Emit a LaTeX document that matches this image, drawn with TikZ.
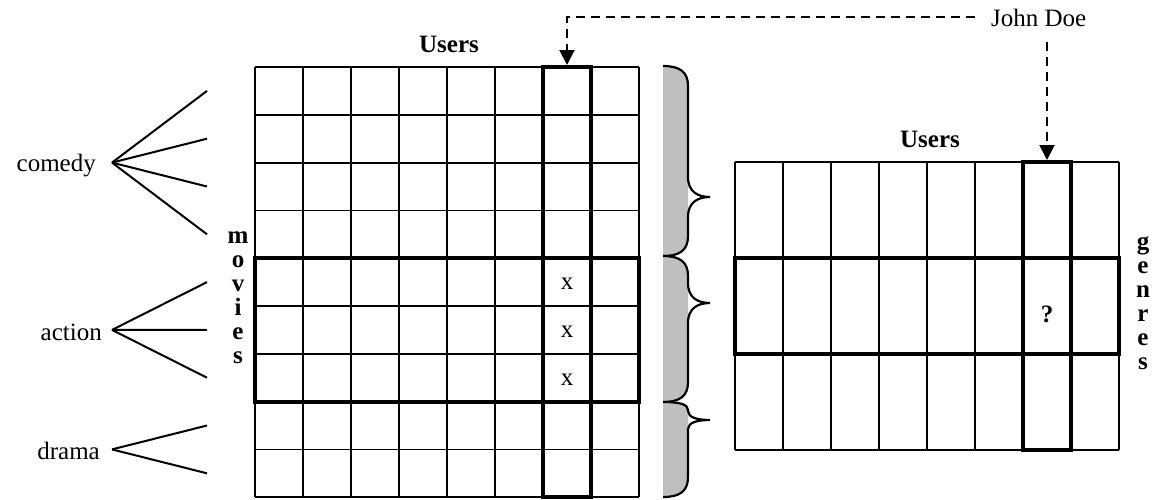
\documentclass[tikz,border=0pt]{standalone}
\usepackage{fontspec}
\setmainfont{Liberation Serif}
\usetikzlibrary{arrows.meta}
\tikzset{
  gridline/.style={line width=1.8pt},
  boldline/.style={line width=4.2pt},
  lbl/.style={font=\fontsize{25}{29}\selectfont, inner sep=0pt},
  blbl/.style={font=\fontsize{25}{29}\selectfont\bfseries, inner sep=0pt},
  fan/.style={line width=2pt},
  dasharrow/.style={line width=2pt, dash pattern=on 9pt off 6pt, -{Triangle[width=15pt,length=15pt]}},
  bracestroke/.style={line width=2.2pt},
  bracefill/.style={fill=black!25},
}
\newcommand{\drawbrace}[5]{%
  \fill[bracefill] (663,#1) .. controls (680,#1) and (688,#1+#4*0.3) .. (688,#1+#4)
     -- (688,#2-20) .. controls (688,#2-6) and (680,#2) .. (663,#2) -- cycle;
  \draw[bracestroke] (663,#1) .. controls (680,#1) and (688,#1+#4*0.3) .. (688,#1+#4)
     -- (688,#3-#5) .. controls (688,#3-#5*0.25) and (698,#3) .. (710,#3)
     .. controls (698,#3) and (688,#3+#5*0.25) .. (688,#3+#5)
     -- (688,#2-20) .. controls (688,#2-6) and (680,#2) .. (663,#2);
}
\begin{document}
\begin{tikzpicture}[x=1pt,y=-1pt]
\useasboundingbox (0,0) rectangle (1153,499);

% ---- left grid (movies x users)
\foreach \i in {0,...,8} \draw[gridline] (255+48*\i,67) -- (255+48*\i,497.2);
\foreach \j in {0,...,9} \draw[gridline] (255,67+47.8*\j) -- (639,67+47.8*\j);
\draw[boldline] (255,258.2) rectangle (639,401.6);
\draw[boldline] (543,67) rectangle (591,497.2);

% ---- right grid (genres x users)
\foreach \i in {0,...,8} \draw[gridline] (735+48*\i,162) -- (735+48*\i,450);
\foreach \j in {0,...,3} \draw[gridline] (735,162+96*\j) -- (1119,162+96*\j);
\draw[boldline] (735,258) rectangle (1119,354);
\draw[boldline] (1023,162) rectangle (1071,450);

% ---- headers
\node[blbl, anchor=base] (usersL) at (449,52) {Users};
\node[blbl, anchor=base] (usersR) at (930,147) {Users};
\node[lbl, anchor=base west] (john) at (991,26) {John Doe};
\coordinate (colL) at (567,65);
\coordinate (colR) at (1047,160);
\draw[dasharrow, shorten <=16pt] (john.west) -| (colL);
\draw[dasharrow, shorten <=16pt] (john.south -| colR) -- (colR);

% ---- cell marks
\node[lbl] (x1) at (567,284) {x};
\node[lbl] (x2) at (567,332) {x};
\node[lbl] (x3) at (567,380) {x};
\node[blbl, anchor=base] (q) at (1047,322) {?};

% ---- vertical words
\foreach \l [count=\i] in {m,o,v,i,e,s}
  \node[blbl, anchor=base] (mv\i) at (238,219+24*\i) {\l};
\foreach \l [count=\i] in {g,e,n,r,e,s}
  \node[blbl, anchor=base] (gn\i) at (1143,225+24*\i) {\l};

% ---- genre fans
\node[lbl, anchor=base east] (comedy) at (96,171) {comedy};
\node[lbl, anchor=base east] (action) at (102,340) {action};
\node[lbl, anchor=base east] (drama) at (100,459) {drama};
\coordinate (ca) at (112,162.6);
\coordinate (aa) at (112,329.9);
\coordinate (da) at (112,449.4);
\foreach \k in {1,...,4} {\coordinate (ce\k) at (207,67+47.8*\k-23.9); \draw[fan] (ca) -- (ce\k);}
\foreach \k in {5,...,7} {\coordinate (ae\k) at (207,67+47.8*\k-23.9); \draw[fan] (aa) -- (ae\k);}
\foreach \k in {8,9} {\coordinate (de\k) at (207,67+47.8*\k-23.9); \draw[fan] (da) -- (de\k);}

% ---- braces
\drawbrace{66}{256}{197}{20}{20}
\drawbrace{256}{402}{303}{20}{20}
\drawbrace{402}{497}{420}{8}{9}
\end{tikzpicture}
\end{document}
